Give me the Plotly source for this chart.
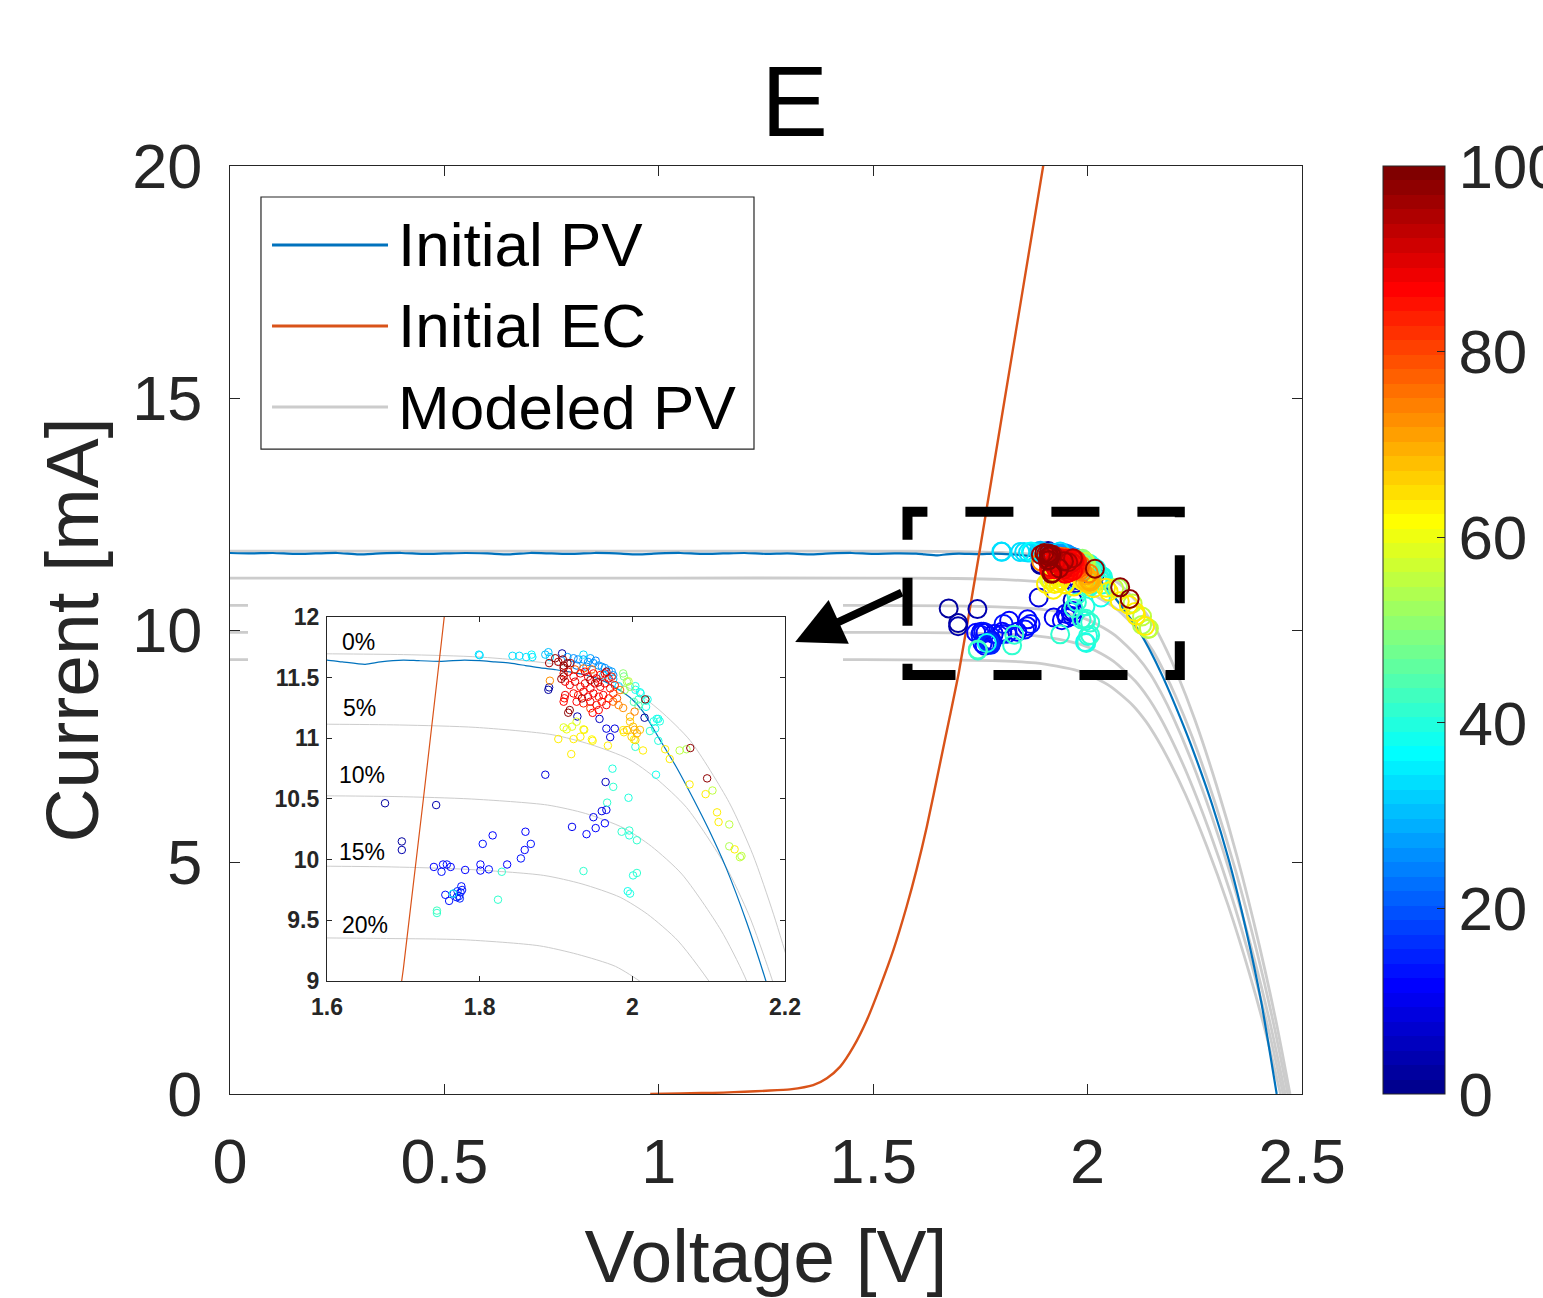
import plotly.graph_objects as go

# ---------------- data ----------------
# Initial PV (measured) curve
pv_v = [0.00, 0.05, 0.10, 0.15, 0.20, 0.25, 0.30, 0.35, 0.40, 0.45, 0.50, 0.55, 0.60, 0.65, 0.70,
        0.75, 0.80, 0.85, 0.90, 0.95, 1.00, 1.05, 1.10, 1.15, 1.20, 1.25, 1.30, 1.35, 1.40, 1.45,
        1.50, 1.55, 1.60, 1.62, 1.65, 1.67, 1.70, 1.72, 1.75, 1.78, 1.80, 1.82, 1.84, 1.86, 1.88,
        1.90, 1.92, 1.94, 1.96, 1.98, 2.00, 2.014, 2.035, 2.058, 2.08, 2.10, 2.123, 2.15, 2.175,
        2.205, 2.24, 2.29, 2.33, 2.37, 2.405, 2.441]
pv_i = [11.66, 11.65, 11.66, 11.64, 11.65, 11.66, 11.63, 11.65, 11.66, 11.64, 11.65, 11.66, 11.65, 11.63, 11.66,
        11.65, 11.64, 11.66, 11.65, 11.63, 11.65, 11.66, 11.64, 11.65, 11.66, 11.64, 11.65, 11.63, 11.65, 11.66,
        11.64, 11.65, 11.645, 11.63, 11.61, 11.63, 11.645, 11.64, 11.635, 11.645, 11.64, 11.63, 11.62, 11.60, 11.58,
        11.565, 11.545, 11.52, 11.48, 11.41, 11.32, 11.22, 11.00, 10.76, 10.50, 10.25, 9.93, 9.48, 9.00,
        8.36, 7.55, 6.25, 5.02, 3.52, 1.98, 0.00]

# Initial EC curve
ec_v = [0.98, 1.05, 1.10, 1.15, 1.20, 1.25, 1.306, 1.36, 1.392, 1.423, 1.454, 1.485, 1.516, 1.547,
        1.578, 1.601, 1.625, 1.656, 1.679, 1.70, 1.75, 1.80, 1.85, 1.90]
ec_i = [0.00, 0.01, 0.02, 0.03, 0.05, 0.07, 0.10, 0.19, 0.34, 0.59, 1.02, 1.59, 2.31, 3.10,
        4.04, 4.83, 5.76, 7.13, 8.15, 9.10, 11.80, 14.60, 17.40, 20.20]

# Modeled PV curves (0 %, 5 %, 10 %, 15 %, 20 %)
m0_v = [0.0, 1.0, 1.5, 1.7, 1.8, 1.9, 1.95, 2.0, 2.036, 2.076, 2.127, 2.158, 2.185, 2.209, 2.25, 2.30, 2.35, 2.40, 2.44, 2.472]
m0_i = [11.70, 11.70, 11.70, 11.69, 11.67, 11.61, 11.53, 11.40, 11.23, 10.98, 10.47, 10.04, 9.55, 9.05, 8.07, 6.67, 5.07, 3.22, 1.54, 0.00]
m5_v = [0.0, 0.995, 1.495, 1.695, 1.795, 1.895, 1.945, 1.995, 2.031, 2.071, 2.122, 2.153, 2.180, 2.204, 2.245, 2.295, 2.345, 2.395, 2.435, 2.467]
m5_i = [11.12, 11.12, 11.12, 11.11, 11.09, 11.03, 10.95, 10.83, 10.67, 10.43, 9.95, 9.54, 9.07, 8.60, 7.67, 6.34, 4.82, 3.06, 1.46, 0.00]
m10_v = [0.0, 0.989, 1.489, 1.689, 1.789, 1.889, 1.939, 1.989, 2.025, 2.065, 2.116, 2.147, 2.174, 2.198, 2.239, 2.289, 2.339, 2.389, 2.429, 2.461]
m10_i = [10.53, 10.53, 10.53, 10.52, 10.50, 10.45, 10.38, 10.26, 10.11, 9.88, 9.42, 9.04, 8.60, 8.15, 7.26, 6.00, 4.56, 2.90, 1.39, 0.00]
m15_v = [0.0, 0.984, 1.484, 1.684, 1.784, 1.884, 1.934, 1.984, 2.020, 2.060, 2.111, 2.142, 2.169, 2.193, 2.234, 2.284, 2.334, 2.384, 2.424, 2.456]
m15_i = [9.95, 9.95, 9.95, 9.94, 9.92, 9.87, 9.80, 9.69, 9.55, 9.33, 8.90, 8.53, 8.12, 7.69, 6.86, 5.67, 4.31, 2.74, 1.31, 0.00]
m20_v = [0.0, 0.978, 1.478, 1.678, 1.778, 1.878, 1.928, 1.978, 2.014, 2.054, 2.105, 2.136, 2.163, 2.187, 2.228, 2.278, 2.328, 2.378, 2.418, 2.450]
m20_i = [9.36, 9.36, 9.36, 9.35, 9.34, 9.29, 9.22, 9.12, 8.98, 8.78, 8.38, 8.03, 7.64, 7.24, 6.46, 5.34, 4.06, 2.58, 1.23, 0.00]

model_labels = ["0%", "5%", "10%", "15%", "20%"]
model_label_v = [1.641, 1.643, 1.646, 1.646, 1.650]
model_label_i = [11.79, 11.25, 10.70, 10.06, 9.46]

# Operating points: voltage, current, colour value (0-100)
sc_v = [
    # navy / dark blue
    1.908, 1.890, 1.891, 1.928, 2.016, 1.886, 1.965, 1.676, 1.743, 1.698, 1.698, 1.957, 1.966, 1.977, 1.971,
    # blue
    1.966, 1.960, 1.949, 1.964, 1.952, 1.940, 1.921, 1.860, 1.867, 1.859, 1.854, 1.817, 1.804, 1.836, 1.801,
    1.801, 1.812, 1.781, 1.740, 1.750, 1.752, 1.757, 1.762, 1.755, 1.760, 1.766, 1.770, 1.773, 1.775, 1.777,
    1.774, 1.776, 1.771,
    # dodger blue band
    1.923, 1.929, 1.936, 1.942, 1.949, 1.956, 1.960, 1.964, 1.969, 1.973, 1.975, 1.927, 1.940, 1.915, 1.952, 1.945,
    # sky blue
    1.799, 1.800, 1.843, 1.852, 1.861, 1.869, 1.868, 1.886, 1.890, 1.892, 1.936, 1.962, 1.975, 1.982,
    # cyan
    1.974, 1.975, 1.995, 1.967, 2.031, 1.986, 1.996, 1.996, 2.006, 1.829, 1.765, 1.824, 1.744, 1.744, 1.936,
    2.001, 2.006, 1.994, 1.997, 2.004, 2.028, 2.034, 2.023, 2.034, 2.020, 2.018, 2.004, 2.011, 2.018, 2.004,
    2.010, 2.008, 2.032, 2.036, 2.030,
    # cyan-green / green
    2.002, 2.008, 1.988, 1.993, 1.997, 1.990, 1.989, 1.995, 2.062, 2.071, 2.105, 2.127, 2.127, 2.141, 2.143,
    # yellow-green
    1.910, 1.914, 1.921, 1.927, 1.936,
    # yellow
    1.903, 1.923, 1.932, 1.947, 1.937, 1.948, 1.920, 1.968, 2.014, 1.989, 2.002, 2.043, 2.049, 2.075, 2.096,
    2.111, 2.113, 2.134, 1.988,
    # yellow-orange
    1.997, 2.001, 1.999, 2.006, 2.004, 1.993, 1.997, 2.010, 2.003,
    # orange
    1.892, 1.988, 2.003, 1.975, 1.982, 1.925, 1.936, 1.947, 1.984, 1.980, 1.945,
    # red
    1.910, 1.916, 1.923, 1.932, 1.938, 1.942, 1.949, 1.953, 1.958, 1.964, 1.969, 1.973, 1.912, 1.918, 1.925,
    1.932, 1.938, 1.945, 1.951, 1.958, 1.964, 1.971, 1.977, 1.923, 1.929, 1.936, 1.942, 1.949, 1.956, 1.962,
    1.969, 1.975, 1.927, 1.936, 1.945, 1.953, 1.960, 1.966, 1.912, 1.910, 1.956, 1.911, 1.948,
    # dark red
    1.891, 1.899, 1.903, 1.909, 1.910, 1.915, 1.919, 1.910, 1.907, 1.910, 1.934, 1.918, 1.916, 1.966, 2.017,
    2.076, 2.098, 1.955, 1.945,
]
sc_i = [
    11.70, 11.40, 11.42, 11.18, 11.17, 10.70, 10.64, 10.465, 10.45, 10.15, 10.08, 11.16, 11.08, 11.08, 11.01,
    10.41, 10.40, 10.35, 10.30, 10.26, 10.21, 10.27, 10.23, 10.13, 10.08, 10.01, 10.20, 10.13, 9.96, 9.96,
    9.91, 9.92, 9.915, 9.94, 9.90, 9.96, 9.96, 9.94, 9.71, 9.66, 9.72, 9.69, 9.70, 9.73, 9.75,
    9.68, 9.78, 9.74,
    11.66, 11.65, 11.65, 11.63, 11.62, 11.60, 11.59, 11.58, 11.56, 11.55, 11.52, 11.60, 11.59, 11.67, 11.64, 11.66,
    11.69, 11.685, 11.68, 11.68, 11.67, 11.67, 11.69, 11.69, 11.71, 11.67, 11.69, 11.52, 11.49, 11.43,
    10.75, 10.60, 10.51, 10.47, 10.70, 10.23, 10.24, 10.20, 10.16, 9.90, 9.72, 9.67, 9.58, 9.56, 9.906,
    9.87, 9.89, 9.74, 9.72, 10.93, 11.14, 11.16, 11.06, 10.98, 11.32, 11.26, 11.40, 11.37, 11.31, 11.43,
    11.38, 11.32, 11.16, 11.14, 11.08,
    11.30, 11.27, 11.535, 11.467, 11.425, 11.398, 11.51, 11.47, 10.90, 10.91, 10.57, 10.29, 10.11, 10.02, 10.03,
    11.090, 11.074, 11.096, 11.137, 11.074,
    10.994, 10.994, 11.013, 10.991, 11.07, 10.98, 10.87, 10.94, 10.90, 11.05, 10.99, 10.91, 10.83, 10.62, 10.54,
    10.39, 10.31, 10.085, 11.068,
    11.137, 11.096, 11.013, 11.041, 10.986, 11.068, 11.178, 11.07, 11.07,
    11.475, 11.25, 11.22, 11.302, 11.274, 11.568, 11.576, 11.568, 11.398, 11.329, 11.247,
    11.535, 11.549, 11.508, 11.535, 11.549, 11.508, 11.535, 11.494, 11.522, 11.535, 11.494, 11.508, 11.467, 11.439, 11.467,
    11.425, 11.453, 11.412, 11.453, 11.425, 11.453, 11.412, 11.439, 11.370, 11.357, 11.384, 11.343, 11.370, 11.343, 11.357,
    11.329, 11.370, 11.302, 11.288, 11.302, 11.274, 11.302, 11.274, 11.357, 11.302, 11.233, 11.33, 11.21,
    11.62, 11.66, 11.63, 11.65, 11.60, 11.62, 11.62, 11.58, 11.49, 11.51, 11.329, 11.233, 11.211, 11.549, 11.321,
    10.92, 10.67, 11.46, 11.48,
]
sc_c = [
    3, 2, 3, 4, 3, 8, 5, 3, 4, 3, 4, 6, 8, 9, 8,
    10, 8, 10, 12, 11, 12, 10, 12, 13, 12, 13, 12, 13, 12, 11,
    12, 13, 12, 12, 13, 12, 14, 12, 14, 13, 15, 14, 15, 13, 14,
    15, 13, 16,
    26, 25, 27, 26, 25, 27, 26, 25, 26, 27, 25, 24, 26, 27, 24, 28,
    34, 33, 33, 34, 33, 34, 36, 31, 30, 32, 34, 32, 31, 33,
    40, 41, 40, 42, 39, 42, 41, 40, 42, 41, 39, 42, 43, 42, 41,
    40, 41, 39, 40, 41, 40, 39, 41, 40, 38, 39, 38, 39, 40, 40,
    38, 41, 38, 40, 39,
    45, 46, 50, 52, 50, 53, 48, 55, 55, 54, 56, 55, 54, 55, 56,
    58, 60, 59, 58, 60,
    63, 64, 63, 62, 63, 64, 63, 63, 64, 63, 62, 63, 64, 63, 64,
    63, 64, 63, 64,
    67, 68, 66, 69, 67, 68, 69, 68, 70,
    73, 72, 74, 75, 74, 78, 75, 78, 76, 77, 80,
    85, 88, 86, 89, 87, 90, 86, 88, 85, 89, 87, 84, 88, 86, 90,
    85, 88, 87, 89, 86, 88, 85, 83, 87, 84, 89, 86, 88, 85, 87,
    84, 82, 86, 84, 88, 85, 83, 86, 88, 87, 86, 85, 87,
    96, 97, 95, 98, 96, 97, 95, 98, 96, 97, 96, 97, 98, 95, 97,
    98, 97, 95, 96,
]

x_ticks = [0, 0.5, 1, 1.5, 2, 2.5]
x_tick_text = ["0", "0.5", "1", "1.5", "2", "2.5"]
y_ticks = [0, 5, 10, 15, 20]
inset_x_ticks = [1.6, 1.8, 2.0, 2.2]
inset_x_text = ["1.6", "1.8", "2", "2.2"]
inset_y_ticks = [9, 9.5, 10, 10.5, 11, 11.5, 12]
inset_y_text = ["9", "9.5", "10", "10.5", "11", "11.5", "12"]
cbar_ticks = [0, 20, 40, 60, 80, 100]
legend_labels = ["Initial PV", "Initial EC", "Modeled PV"]

# ---------------- styling helpers ----------------
BLUE = "rgb(0,114,189)"
ORANGE = "rgb(217,83,25)"
GRAY = "rgb(204,204,204)"
AX = "#262626"
FONT = "Liberation Sans, Arial, Helvetica, sans-serif"

# MATLAB-like jet(64) colormap as a stepped colorscale
_anchors = [(0, (0, 0, 0.5625)), (7, (0, 0, 1)), (23, (0, 1, 1)), (39, (1, 1, 0)), (55, (1, 0, 0)), (63, (0.5, 0, 0))]
jet_cols = []
for k in range(64):
    for (a, ca), (b, cb) in zip(_anchors[:-1], _anchors[1:]):
        if a <= k <= b:
            t = (k - a) / (b - a)
            c = [ca[j] + (cb[j] - ca[j]) * t for j in range(3)]
            break
    jet_cols.append("rgb(%d,%d,%d)" % tuple(round(255 * x) for x in c))
jet_scale = []
for k, col in enumerate(jet_cols):
    jet_scale.append([k / 64, col])
    jet_scale.append([(k + 1) / 64, col])

order = sorted(range(len(sc_c)), key=lambda k: sc_c[k])
sv = [sc_v[k] for k in order]
si = [sc_i[k] for k in order]
scc = [sc_c[k] for k in order]

models = [(m0_v, m0_i), (m5_v, m5_i), (m10_v, m10_i), (m15_v, m15_i), (m20_v, m20_i)]

fig = go.Figure()

# ---- main axes ----
for mv, mi in models:
    fig.add_trace(go.Scatter(x=mv, y=mi, mode="lines", line=dict(color=GRAY, width=2.8, shape="spline", smoothing=0.7),
                             xaxis="x", yaxis="y", hoverinfo="skip"))
fig.add_trace(go.Scatter(x=pv_v, y=pv_i, mode="lines", line=dict(color=BLUE, width=2.2, shape="spline", smoothing=0.6),
                         xaxis="x", yaxis="y"))
fig.add_trace(go.Scatter(x=ec_v, y=ec_i, mode="lines", line=dict(color=ORANGE, width=2.4, shape="spline", smoothing=0.6),
                         xaxis="x", yaxis="y"))
fig.add_trace(go.Scatter(
    x=sv, y=si, mode="markers", xaxis="x", yaxis="y",
    marker=dict(symbol="circle-open", size=18, color=scc, colorscale=jet_scale, cmin=0, cmax=100,
                line=dict(width=2),
                showscale=True,
                colorbar=dict(thickness=62, thicknessmode="pixels", len=1, lenmode="fraction",
                              x=1.0756, xanchor="left", y=0.5, yanchor="middle", xpad=0, ypad=0,
                              outlinewidth=1, outlinecolor=AX, tickvals=cbar_ticks, ticks="inside",
                              ticklen=8, tickwidth=1, tickcolor=AX,
                              tickfont=dict(family=FONT, size=62, color=AX)))))

# ---- white panel behind the inset (x2/y2) ----
fig.add_trace(go.Scatter(x=[0, 1, 1, 0, 0], y=[0, 0, 1, 1, 0], mode="lines", fill="toself",
                         fillcolor="white", line=dict(width=0, color="white"),
                         xaxis="x2", yaxis="y2", hoverinfo="skip"))

# ---- inset axes (x3/y3) ----
for mv, mi in models:
    fig.add_trace(go.Scatter(x=mv, y=mi, mode="lines", line=dict(color=GRAY, width=1, shape="spline", smoothing=0.7),
                             xaxis="x3", yaxis="y3", hoverinfo="skip"))
fig.add_trace(go.Scatter(x=pv_v, y=pv_i, mode="lines", line=dict(color=BLUE, width=1.2, shape="spline", smoothing=0.6),
                         xaxis="x3", yaxis="y3"))
fig.add_trace(go.Scatter(x=ec_v, y=ec_i, mode="lines", line=dict(color=ORANGE, width=1.2, shape="spline", smoothing=0.6),
                         xaxis="x3", yaxis="y3"))
fig.add_trace(go.Scatter(
    x=sv, y=si, mode="markers", xaxis="x3", yaxis="y3",
    marker=dict(symbol="circle-open", size=7.5, color=scc, colorscale=jet_scale, cmin=0, cmax=100,
                line=dict(width=1), showscale=False)))

# ---------------- layout ----------------
axis_common = dict(showgrid=False, zeroline=False, showline=True, linecolor=AX, linewidth=1.2,
                   ticks="inside", tickcolor=AX, tickwidth=1.2, mirror="ticks")

fig.update_layout(
    width=1543, height=1298, autosize=False,
    margin=dict(l=230, r=241, t=166, b=204, autoexpand=False),
    paper_bgcolor="white", plot_bgcolor="white",
    showlegend=False,
    font=dict(family=FONT, color=AX),
    title=dict(text="E", x=0.515, xanchor="center", y=0.922, yanchor="middle", yref="container",
               font=dict(family=FONT, size=100, color="black")),
    xaxis=dict(domain=[0, 1], anchor="y", range=[0, 2.5], tickvals=x_ticks, ticktext=x_tick_text,
               ticklen=10, tickfont=dict(family=FONT, size=63, color=AX), ticklabelstandoff=12,
               title=dict(text="Voltage [V]", font=dict(family=FONT, size=75, color=AX), standoff=40),
               **axis_common),
    yaxis=dict(domain=[0, 1], anchor="x", range=[0, 20], tickvals=y_ticks,
               ticklen=10, tickfont=dict(family=FONT, size=63, color=AX), ticklabelstandoff=14,
               title=dict(text="Current [mA]", font=dict(family=FONT, size=75, color=AX), standoff=8),
               **axis_common),
    xaxis2=dict(domain=[0.0168, 0.5718], anchor="y2", range=[0, 1], visible=False, fixedrange=True),
    yaxis2=dict(domain=[0.069, 0.543], anchor="x2", range=[0, 1], visible=False, fixedrange=True),
    xaxis3=dict(domain=[0.0905, 0.5177], anchor="y3", range=[1.6, 2.2], tickvals=inset_x_ticks,
                ticktext=inset_x_text, ticklen=5, ticklabelstandoff=5,
                tickfont=dict(family=FONT, size=23, color=AX, weight="bold"), **axis_common),
    yaxis3=dict(domain=[0.1218, 0.514], anchor="x3", range=[9, 12], tickvals=inset_y_ticks,
                ticktext=inset_y_text, ticklen=5, ticklabelstandoff=2,
                tickfont=dict(family=FONT, size=23, color=AX, weight="bold"), **axis_common),
)

shapes = []
# dashed zoom rectangle
shapes.append(dict(type="rect", xref="x", yref="y", x0=1.58, x1=2.215, y0=9.03, y1=12.55,
                   line=dict(color="black", width=10, dash="48px,38px"), layer="above"))
# legend box
shapes.append(dict(type="rect", xref="paper", yref="paper", x0=0.0289, x1=0.4888, y0=0.6950, y1=0.9666,
                   line=dict(color=AX, width=1.2), fillcolor="white", layer="above"))
legend_colors = [BLUE, ORANGE, GRAY]
legend_y = [0.9149, 0.8276, 0.7403]
for col, ly in zip(legend_colors, legend_y):
    shapes.append(dict(type="line", xref="paper", yref="paper", x0=0.0392, x1=0.1474, y0=ly, y1=ly,
                       line=dict(color=col, width=3), layer="above"))
fig.update_layout(shapes=shapes)

annotations = []
for lab, ly in zip(legend_labels, legend_y):
    annotations.append(dict(text=lab, xref="paper", yref="paper", x=0.1550, y=ly, xanchor="left",
                            yanchor="middle", showarrow=False,
                            font=dict(family=FONT, size=62, color="black")))
for lab, lv, li in zip(model_labels, model_label_v, model_label_i):
    annotations.append(dict(text=lab, xref="x3", yref="y3", x=lv, y=li, xanchor="center", yanchor="middle",
                            showarrow=False, font=dict(family=FONT, size=23, color="black")))
# arrow from zoom box to inset
annotations.append(dict(text="", xref="x", yref="y", x=1.318, y=9.74, axref="x", ayref="y", ax=1.570, ay=10.82,
                        showarrow=True, arrowhead=2, arrowsize=1.2, arrowwidth=8, arrowcolor="black",
                        standoff=0, startstandoff=0))
fig.update_layout(annotations=annotations)

fig.write_html("out.html", config={"displayModeBar": False},
               post_script="document.body.style.margin='0';")
